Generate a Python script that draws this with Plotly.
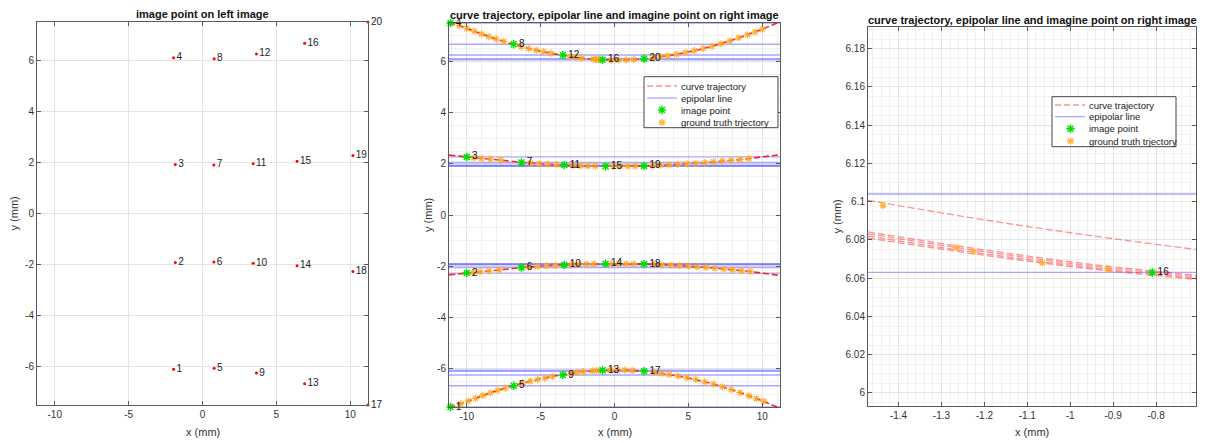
import plotly.graph_objects as go

W, H = 1207, 443

# ---------------- data ----------------
POINT_LABELS = [str(i) for i in range(1, 21)]

# left image points (mm)
LEFT_X = [-1.96, -1.84, -1.84, -1.96, 0.79, 0.77, 0.77, 0.79, 3.65, 3.43, 3.43, 3.65,
          6.91, 6.40, 6.40, 6.91, 11.2, 10.18, 10.18, 11.2]
LEFT_Y = [-6.104, -1.918, 1.918, 6.104, -6.063, -1.904, 1.904, 6.063, -6.25, -1.95, 1.95, 6.25,
          -6.67, -2.05, 2.05, 6.67, -7.5, -2.27, 2.27, 7.5]

# right image points (mm)
RIGHT_X = [-11.1, -10.0, -10.0, -11.1, -6.82, -6.3, -6.3, -6.82, -3.5, -3.4, -3.4, -3.5,
           -0.81, -0.6, -0.6, -0.809, 2.0, 2.0, 2.0, 2.0]
RIGHT_Y = [-7.5, -2.27, 2.27, 7.5, -6.67, -2.05, 2.05, 6.67, -6.25, -1.95, 1.95, 6.25,
           -6.063, -1.904, 1.904, 6.063, -6.104, -1.918, 1.918, 6.104]

# epipolar lines (horizontal) on right image
EPIPOLAR_Y = [-6.104, -1.918, 1.918, 6.104, -6.063, -1.904, 1.904, 6.063, -6.25, -1.95, 1.95, 6.25,
              -6.67, -2.05, 2.05, 6.67, -7.5, -2.27, 2.27, 7.5]
EPI_X_RANGE = [-11.2, 11.2]

# curve trajectories (one per row of points)
CURVE_X = [-11.2, -10, -9, -8, -7, -6, -5, -4, -3, -2, -1, 0, 1, 2, 3, 4, 5, 6, 7, 8, 9, 10, 11.2]
CURVE_TOP = [7.53, 7.29, 7.07, 6.87, 6.69, 6.53, 6.40, 6.29, 6.19, 6.115, 6.069, 6.052, 6.062,
             6.104, 6.17, 6.26, 6.37, 6.50, 6.66, 6.84, 7.04, 7.26, 7.55]
CURVE_UP = [2.34, 2.27, 2.21, 2.16, 2.10, 2.04, 2.00, 1.97, 1.94, 1.92, 1.907, 1.902, 1.905,
            1.918, 1.94, 1.97, 2.00, 2.04, 2.09, 2.14, 2.20, 2.27, 2.35]
CURVE_LOW = [-2.34, -2.27, -2.21, -2.16, -2.10, -2.04, -2.00, -1.97, -1.94, -1.92, -1.907, -1.902,
             -1.905, -1.918, -1.94, -1.97, -2.00, -2.04, -2.09, -2.14, -2.20, -2.27, -2.36]
CURVE_BOT = [-7.53, -7.29, -7.07, -6.87, -6.69, -6.53, -6.40, -6.29, -6.19, -6.115, -6.069, -6.052,
             -6.062, -6.104, -6.17, -6.26, -6.37, -6.50, -6.66, -6.84, -7.04, -7.26, -7.55]

# ground truth trajectory samples
STAR_TOP_X = [-10.5, -10.0, -9.5, -9.0, -8.5, -8.0, -7.5, -6.3, -5.8, -5.3, -4.8, -4.3, -3.0, -2.6,
              -2.2, -1.436, -1.266, -1.225, -1.065, -0.913, -0.2, 0.3, 0.8, 1.3, 2.6, 3.1, 3.6,
              4.2, 4.8, 5.4, 6.0, 6.6, 7.2, 7.8, 8.4, 9.0, 9.5, 10.0]
STAR_TOP_Y = [7.40, 7.29, 7.18, 7.07, 6.97, 6.87, 6.78, 6.57, 6.50, 6.44, 6.38, 6.32, 6.19, 6.16,
              6.13, 6.098, 6.076, 6.074, 6.068, 6.065, 6.053, 6.054, 6.059, 6.072, 6.14, 6.18, 6.22,
              6.28, 6.35, 6.42, 6.50, 6.59, 6.69, 6.80, 6.92, 7.04, 7.15, 7.26]
STAR_UP_X = [-9.5, -9.0, -8.4, -7.7, -5.7, -5.1, -4.5, -3.9, -2.8, -2.3, -1.8, -1.3, -0.1, 0.4,
             0.9, 1.4, 2.6, 3.1, 3.7, 4.3, 4.9, 5.5, 6.1, 6.7, 7.3, 7.9, 8.5, 9.1]
STAR_UP_Y = [2.24, 2.21, 2.18, 2.14, 2.03, 2.00, 1.985, 1.965, 1.935, 1.925, 1.917, 1.91, 1.902,
             1.903, 1.905, 1.91, 1.93, 1.943, 1.96, 1.978, 2.0, 2.02, 2.045, 2.075, 2.105, 2.135,
             2.17, 2.205]
STAR_LOW_X = [-9.6, -9.1, -8.5, -7.8, -5.8, -5.2, -4.6, -4.0, -2.9, -2.4, -1.9, -1.4, -0.2, 0.3,
              0.8, 1.3, 2.7, 3.2, 3.8, 4.4, 5.0, 5.6, 6.2, 6.8, 7.4, 8.0, 8.6, 9.2]
STAR_LOW_Y = [-2.25, -2.215, -2.18, -2.145, -2.035, -2.005, -1.985, -1.97, -1.937, -1.927, -1.918,
              -1.911, -1.902, -1.903, -1.905, -1.91, -1.932, -1.945, -1.963, -1.98, -2.0, -2.025,
              -2.05, -2.08, -2.11, -2.14, -2.175, -2.21]
STAR_BOT_X = [-10.4, -9.9, -9.4, -8.9, -8.4, -7.9, -7.4, -6.2, -5.7, -5.2, -4.7, -4.2, -2.9, -2.5,
              -2.1, -1.5, -1.2, -0.3, 0.2, 0.7, 1.2, 2.7, 3.2, 3.7, 4.3, 4.9, 5.5, 6.1, 6.7, 7.3,
              7.9, 8.5, 9.1, 9.6, 10.1]
STAR_BOT_Y = [-7.38, -7.27, -7.16, -7.05, -6.95, -6.85, -6.76, -6.56, -6.49, -6.43, -6.37, -6.31,
              -6.18, -6.15, -6.12, -6.09, -6.075, -6.054, -6.053, -6.058, -6.07, -6.15, -6.19,
              -6.23, -6.29, -6.36, -6.43, -6.52, -6.61, -6.71, -6.82, -6.94, -7.06, -7.17, -7.28]

# zoomed view: individual curve trajectories near point 16
ZOOM_X = [-1.471, -1.2, -0.95, -0.707]
ZOOM_CURVES = [
    [6.0842, 6.0748, 6.0672, 6.0615],
    [6.0832, 6.0739, 6.0664, 6.0608],
    [6.0820, 6.0728, 6.0655, 6.0600],
    [6.0810, 6.0720, 6.0648, 6.0594],
    [6.1007, 6.0905, 6.0822, 6.0750],
]
ZOOM_XRANGE = [-1.471, -0.707]
ZOOM_YRANGE = [5.9932, 6.1913]

# ticks
LR_XTICKS = [-10, -5, 0, 5, 10]
LR_XTICKTEXT = ['-10', '-5', '0', '5', '10']
LR_YTICKS = [-6, -4, -2, 0, 2, 4, 6]
LR_YTICKTEXT = ['-6', '-4', '-2', '0', '2', '4', '6']
Z_XTICKS = [-1.4, -1.3, -1.2, -1.1, -1.0, -0.9, -0.8]
Z_XTICKTEXT = ['-1.4', '-1.3', '-1.2', '-1.1', '-1', '-0.9', '-0.8']
Z_YTICKS = [6.0, 6.02, 6.04, 6.06, 6.08, 6.1, 6.12, 6.14, 6.16, 6.18]
Z_YTICKTEXT = ['6', '6.02', '6.04', '6.06', '6.08', '6.1', '6.12', '6.14', '6.16', '6.18']

TITLE_LEFT = 'image point on left image'
TITLE_RIGHT = 'curve trajectory, epipolar line and imagine point on right image'
LEGEND_NAMES = ['curve trajectory', 'epipolar line', 'image point', 'ground truth trjectory']

# ---------------- styles ----------------
FONT = 'Liberation Sans, Arial, sans-serif'
RED_LINE = 'rgba(255,0,0,0.85)'
RED_LIGHT = 'rgba(255,60,60,0.55)'
BLUE = 'rgba(50,50,255,0.42)'
GREEN = 'rgb(0,225,0)'
ORANGE = 'rgba(255,168,30,0.85)'
AXC = '#5a5a5a'
GRID = '#e4e4e4'
MINOR = '#f1f1f1'
GREEN_MARK = dict(symbol='asterisk-open', size=7, color=GREEN, line=dict(color=GREEN, width=1.5))
ORANGE_MARK = dict(symbol='asterisk-open', size=6, color=ORANGE, line=dict(color=ORANGE, width=1.3))


def px_x(p):
    return p / W


def px_y(p):
    return 1 - p / H


fig = go.Figure()

# ---------- left panel ----------
fig.add_trace(go.Scatter(x=LEFT_X, y=LEFT_Y, mode='markers+text', text=POINT_LABELS,
                         textposition='middle right', cliponaxis=False,
                         textfont=dict(size=10, color='#222', family=FONT),
                         marker=dict(color='red', size=3), showlegend=False,
                         xaxis='x', yaxis='y'))

ex, ey = [], []
for yv in EPIPOLAR_Y:
    ex += [EPI_X_RANGE[0], EPI_X_RANGE[1], None]
    ey += [yv, yv, None]

# ---------- middle panel ----------
fig.add_trace(go.Scatter(x=ex, y=ey, mode='lines', line=dict(color=BLUE, width=1.3),
                         showlegend=False, xaxis='x2', yaxis='y2', hoverinfo='skip'))
for cy in [CURVE_TOP, CURVE_UP, CURVE_LOW, CURVE_BOT]:
    fig.add_trace(go.Scatter(x=CURVE_X, y=cy, mode='lines', line_shape='spline',
                             line=dict(color=RED_LINE, width=1.6, dash='6px,3px'),
                             showlegend=False, xaxis='x2', yaxis='y2'))
for sx, sy in [(STAR_TOP_X, STAR_TOP_Y), (STAR_UP_X, STAR_UP_Y),
               (STAR_LOW_X, STAR_LOW_Y), (STAR_BOT_X, STAR_BOT_Y)]:
    fig.add_trace(go.Scatter(x=sx, y=sy, mode='markers', marker=ORANGE_MARK,
                             showlegend=False, xaxis='x2', yaxis='y2'))
fig.add_trace(go.Scatter(x=RIGHT_X, y=RIGHT_Y, mode='markers+text', text=POINT_LABELS,
                         textposition='middle right', cliponaxis=False,
                         textfont=dict(size=10, color='#111', family=FONT),
                         marker=GREEN_MARK, showlegend=False, xaxis='x2', yaxis='y2'))

# ---------- right (zoomed) panel ----------
fig.add_trace(go.Scatter(x=ex, y=ey, mode='lines', line=dict(color=BLUE, width=1.3),
                         showlegend=False, xaxis='x3', yaxis='y3', hoverinfo='skip'))
for zc in ZOOM_CURVES:
    fig.add_trace(go.Scatter(x=ZOOM_X, y=zc, mode='lines', line_shape='spline',
                             line=dict(color=RED_LIGHT, width=1.3, dash='7px,3px'),
                             showlegend=False, xaxis='x3', yaxis='y3'))


def in_zoom(x, y):
    return ZOOM_XRANGE[0] <= x <= ZOOM_XRANGE[1] and ZOOM_YRANGE[0] <= y <= ZOOM_YRANGE[1]


zs = [(x, y) for x, y in zip(STAR_TOP_X, STAR_TOP_Y) if in_zoom(x, y)]
fig.add_trace(go.Scatter(x=[p[0] for p in zs], y=[p[1] for p in zs], mode='markers',
                         marker=ORANGE_MARK, showlegend=False, xaxis='x3', yaxis='y3'))
zg = [(x, y, t) for x, y, t in zip(RIGHT_X, RIGHT_Y, POINT_LABELS) if in_zoom(x, y)]
fig.add_trace(go.Scatter(x=[p[0] for p in zg], y=[p[1] for p in zg], text=[p[2] for p in zg],
                         mode='markers+text', textposition='middle right',
                         textfont=dict(size=10, color='#111', family=FONT),
                         marker=GREEN_MARK, showlegend=False, xaxis='x3', yaxis='y3'))

# ---------- hand-made legends on a pixel overlay axis ----------
ann = []


def legend_block(x0, y0, x1, y1, rows, lx0, lx1, mx, tx):
    fig.add_trace(go.Scatter(x=[x0, x1, x1, x0, x0], y=[y0, y0, y1, y1, y0], mode='lines',
                             fill='toself', fillcolor='white',
                             line=dict(color='#444', width=1), showlegend=False,
                             xaxis='x4', yaxis='y4', hoverinfo='skip'))
    fig.add_trace(go.Scatter(x=[lx0, lx1], y=[rows[0], rows[0]], mode='lines',
                             line=dict(color=RED_LIGHT, width=1.3, dash='6px,3px'),
                             showlegend=False, xaxis='x4', yaxis='y4', hoverinfo='skip'))
    fig.add_trace(go.Scatter(x=[lx0, lx1], y=[rows[1], rows[1]], mode='lines',
                             line=dict(color=BLUE, width=1.3),
                             showlegend=False, xaxis='x4', yaxis='y4', hoverinfo='skip'))
    fig.add_trace(go.Scatter(x=[mx], y=[rows[2]], mode='markers', marker=GREEN_MARK,
                             showlegend=False, xaxis='x4', yaxis='y4', hoverinfo='skip'))
    fig.add_trace(go.Scatter(x=[mx], y=[rows[3]], mode='markers', marker=ORANGE_MARK,
                             showlegend=False, xaxis='x4', yaxis='y4', hoverinfo='skip'))
    for r, name in zip(rows, LEGEND_NAMES):
        ann.append(dict(x=tx, y=r, xref='x4', yref='y4', text=name, showarrow=False,
                        xanchor='left', yanchor='middle',
                        font=dict(size=9.5, color='#222', family=FONT)))


legend_block(644, 76.7, 778, 127.7, [86, 98, 110, 122.5], 647, 677, 662, 679)
legend_block(1052, 96.7, 1176, 146.7, [105, 116.7, 128.7, 141], 1055, 1085, 1070.5, 1087)


def axis(domain, rng, tv, tt, anchor, minor=None):
    d = dict(domain=domain, range=rng, tickvals=tv, ticktext=tt, anchor=anchor,
             showline=True, linecolor=AXC, linewidth=1, mirror='ticks',
             ticks='inside', ticklen=4, tickcolor=AXC,
             showgrid=True, gridcolor=GRID, gridwidth=1, zeroline=False,
             tickfont=dict(size=10, color='#333', family=FONT))
    if minor is not None:
        d['minor'] = dict(dtick=minor, showgrid=True, gridcolor=MINOR, gridwidth=1, ticks='')
    return d


L_dom = [px_x(37), px_x(368)]
L_ydom = [px_y(405), px_y(22)]
M_dom = [px_x(449), px_x(780)]
M_ydom = [px_y(407), px_y(23)]
R_dom = [px_x(868), px_x(1196)]
R_ydom = [px_y(406), px_y(27)]

fig.update_layout(
    width=W, height=H, margin=dict(l=0, r=0, t=0, b=0),
    paper_bgcolor='white', plot_bgcolor='rgba(0,0,0,0)',
    font=dict(family=FONT, size=10, color='#222'),
    showlegend=False,
    xaxis=axis(L_dom, [-11.2, 11.2], LR_XTICKS, LR_XTICKTEXT, 'y'),
    yaxis=axis(L_ydom, [-7.5, 7.5], LR_YTICKS, LR_YTICKTEXT, 'x'),
    xaxis2=axis(M_dom, [-11.2, 11.2], LR_XTICKS, LR_XTICKTEXT, 'y2', minor=1),
    yaxis2=axis(M_ydom, [-7.5, 7.5], LR_YTICKS, LR_YTICKTEXT, 'x2', minor=0.5),
    xaxis3=axis(R_dom, ZOOM_XRANGE, Z_XTICKS, Z_XTICKTEXT, 'y3', minor=0.02),
    yaxis3=axis(R_ydom, ZOOM_YRANGE, Z_YTICKS, Z_YTICKTEXT, 'x3', minor=0.005),
    xaxis4=dict(domain=[0, 1], range=[0, W], visible=False, anchor='y4', fixedrange=True),
    yaxis4=dict(domain=[0, 1], range=[H, 0], visible=False, anchor='x4', fixedrange=True),
)

for cx, cy, t in [(202.5, 14, TITLE_LEFT), (614.5, 15, TITLE_RIGHT), (1032, 20, TITLE_RIGHT)]:
    ann.append(dict(x=px_x(cx), y=px_y(cy), xref='paper', yref='paper', text='<b>%s</b>' % t,
                    showarrow=False, xanchor='center', yanchor='middle',
                    font=dict(size=11, color='#111', family=FONT)))
for cx in [202.5, 614.5, 1032]:
    ann.append(dict(x=px_x(cx), y=px_y(432), xref='paper', yref='paper', text='x (mm)',
                    showarrow=False, xanchor='center', yanchor='middle',
                    font=dict(size=11, color='#333', family=FONT)))
for cx, cy in [(13, 213.5), (428, 215), (837, 216.5)]:
    ann.append(dict(x=px_x(cx), y=px_y(cy), xref='paper', yref='paper', text='y (mm)',
                    showarrow=False, xanchor='center', yanchor='middle', textangle=-90,
                    font=dict(size=11, color='#333', family=FONT)))
fig.update_layout(annotations=ann)

fig.write_html('out.html')
